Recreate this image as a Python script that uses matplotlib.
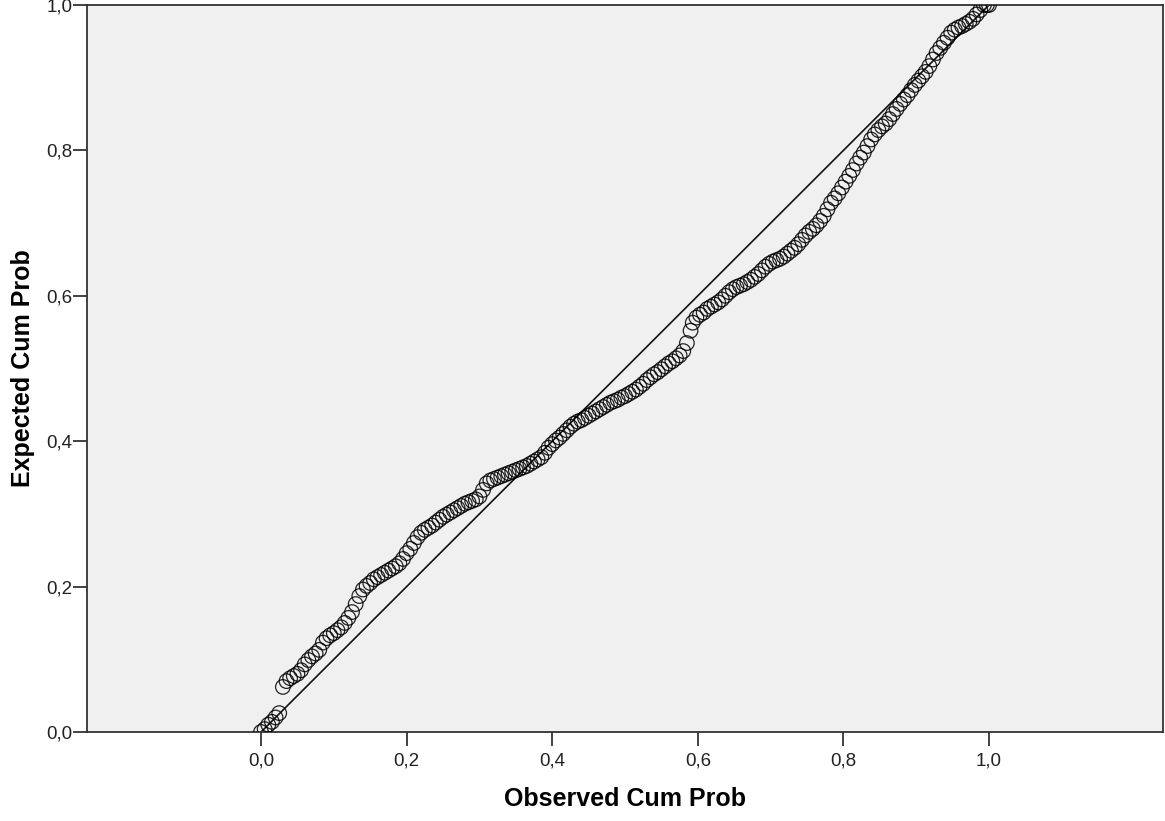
import matplotlib.pyplot as plt
import numpy as np

# P-P plot: valores leídos a ojo del gráfico original
observed = [
    0.000, 0.005, 0.010, 0.015, 0.020, 0.025,
    0.030, 0.035, 0.040, 0.045, 0.050, 0.055, 0.060, 0.065, 0.070, 0.075,
    0.080, 0.085, 0.090, 0.095, 0.100, 0.105, 0.110, 0.115, 0.120, 0.125,
    0.130, 0.135, 0.140, 0.145, 0.150, 0.155, 0.160, 0.165, 0.170, 0.175,
    0.180, 0.185, 0.190, 0.195, 0.200, 0.205, 0.210, 0.215, 0.220, 0.225,
    0.230, 0.235, 0.240, 0.245, 0.250, 0.255, 0.260, 0.265, 0.270, 0.275,
    0.280, 0.285, 0.290, 0.295, 0.300, 0.305, 0.310, 0.315, 0.320, 0.325,
    0.330, 0.335, 0.340, 0.345, 0.350, 0.355, 0.360, 0.365, 0.370, 0.375,
    0.380, 0.385, 0.390, 0.395, 0.400, 0.405, 0.410, 0.415, 0.420, 0.425,
    0.430, 0.435, 0.440, 0.445, 0.450, 0.455, 0.460, 0.465, 0.470, 0.475,
    0.480, 0.485, 0.490, 0.495, 0.500, 0.505, 0.510, 0.515, 0.520, 0.525,
    0.530, 0.535, 0.540, 0.545, 0.550, 0.555, 0.560, 0.565, 0.570, 0.575,
    0.580, 0.585, 0.590, 0.593, 0.598, 0.603, 0.608, 0.613, 0.618, 0.623,
    0.628, 0.633, 0.638, 0.643, 0.648, 0.653, 0.658, 0.663, 0.668, 0.673,
    0.678, 0.683, 0.688, 0.693, 0.698, 0.703, 0.708, 0.713, 0.718, 0.723,
    0.728, 0.733, 0.738, 0.743, 0.748, 0.753, 0.758, 0.763, 0.768, 0.773,
    0.778, 0.783, 0.788, 0.793, 0.798, 0.803, 0.808, 0.813, 0.818, 0.823,
    0.828, 0.833, 0.838, 0.843, 0.848, 0.853, 0.858, 0.863, 0.868, 0.873,
    0.878, 0.883, 0.888, 0.893, 0.898, 0.903, 0.908, 0.913, 0.918, 0.923,
    0.928, 0.933, 0.938, 0.943, 0.948, 0.953, 0.958, 0.963, 0.968, 0.973,
    0.978, 0.983, 0.988, 0.993, 0.997, 1.000,
]
expected = [
    0.000, 0.004, 0.010, 0.014, 0.020, 0.026,
    0.062, 0.070, 0.074, 0.077, 0.080, 0.085, 0.093, 0.099, 0.104, 0.108,
    0.113, 0.123, 0.129, 0.133, 0.136, 0.140, 0.144, 0.150, 0.157, 0.165,
    0.176, 0.187, 0.196, 0.201, 0.205, 0.210, 0.213, 0.216, 0.219, 0.222,
    0.225, 0.228, 0.232, 0.238, 0.246, 0.252, 0.260, 0.268, 0.274, 0.278,
    0.281, 0.284, 0.288, 0.292, 0.296, 0.299, 0.302, 0.305, 0.308, 0.311,
    0.314, 0.316, 0.318, 0.320, 0.324, 0.333, 0.342, 0.346, 0.348, 0.350,
    0.352, 0.354, 0.356, 0.358, 0.360, 0.362, 0.364, 0.366, 0.369, 0.372,
    0.375, 0.378, 0.384, 0.391, 0.396, 0.401, 0.405, 0.410, 0.415, 0.420,
    0.424, 0.427, 0.429, 0.432, 0.435, 0.438, 0.441, 0.444, 0.447, 0.450,
    0.453, 0.455, 0.457, 0.460, 0.462, 0.465, 0.468, 0.471, 0.475, 0.479,
    0.484, 0.488, 0.492, 0.495, 0.499, 0.503, 0.507, 0.510, 0.514, 0.518,
    0.524, 0.535, 0.552, 0.563, 0.570, 0.574, 0.577, 0.582, 0.585, 0.588,
    0.591, 0.595, 0.600, 0.605, 0.609, 0.612, 0.614, 0.616, 0.619, 0.622,
    0.626, 0.630, 0.635, 0.640, 0.644, 0.647, 0.649, 0.651, 0.654, 0.658,
    0.662, 0.666, 0.671, 0.677, 0.683, 0.688, 0.692, 0.697, 0.703, 0.710,
    0.719, 0.728, 0.734, 0.741, 0.749, 0.757, 0.765, 0.773, 0.782, 0.790,
    0.797, 0.806, 0.815, 0.822, 0.828, 0.833, 0.837, 0.843, 0.850, 0.857,
    0.864, 0.870, 0.876, 0.883, 0.890, 0.896, 0.902, 0.908, 0.916, 0.925,
    0.934, 0.941, 0.948, 0.955, 0.962, 0.966, 0.969, 0.971, 0.974, 0.977,
    0.981, 0.987, 0.993, 1.000, 1.000, 1.000,
]
ref_line = [0.0, 1.0]
tick_vals = [0.0, 0.2, 0.4, 0.6, 0.8, 1.0]
tick_labels = ['0,0', '0,2', '0,4', '0,6', '0,8', '1,0']

plt.rcParams['font.family'] = ['Liberation Sans', 'DejaVu Sans']

fig = plt.figure(figsize=(11.65, 8.21), dpi=100)
ax = fig.add_axes([0.0747, 0.1084, 0.9236, 0.8855])
ax.set_facecolor('#f0f0f0')

ax.plot(ref_line, ref_line, color='#111111', linewidth=1.2, zorder=2)
ax.scatter(observed, expected, s=110, facecolors='none', edgecolors='black',
           linewidths=0.9, alpha=0.85, zorder=3)

ax.set_xlim(-0.239, 1.239)
ax.set_ylim(0.0, 1.0)
ax.set_xticks(tick_vals)
ax.set_xticklabels(tick_labels)
ax.set_yticks(tick_vals)
ax.set_yticklabels(tick_labels)
ax.tick_params(axis='both', direction='out', length=10, width=1.2,
               labelsize=13.5, colors='#222222')
ax.tick_params(axis='y', pad=0.5)
ax.tick_params(axis='x', pad=5)

for side in ['left', 'bottom', 'top', 'right']:
    ax.spines[side].set_color('#333333')
    ax.spines[side].set_linewidth(1.3)

ax.set_xlabel('Observed Cum Prob', fontsize=18, fontweight='bold', labelpad=12)
ax.set_ylabel('Expected Cum Prob', fontsize=18, fontweight='bold', labelpad=8)

plt.savefig('out.png', dpi=100, facecolor='white')
plt.close()
